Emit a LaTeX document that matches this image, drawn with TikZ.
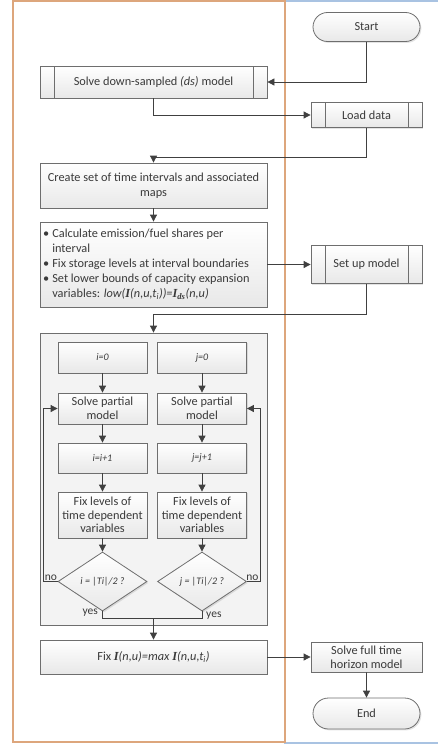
\documentclass[tikz,border=0pt]{standalone}
\usepackage{fontspec}
\setmainfont{Carlito}
\newfontfamily\tnr{Liberation Serif}
\usetikzlibrary{arrows.meta,shapes.geometric,shapes.misc,shadows}

\definecolor{lineclr}{HTML}{404040}
\definecolor{boxedge}{HTML}{6E6E6E}
\definecolor{txtclr}{HTML}{3A3A3A}
\definecolor{lanea}{HTML}{DDA67C}
\definecolor{laneb}{HTML}{A9C3E2}
\definecolor{panel}{HTML}{F3F3F3}

% bold serif italic capital used for the capacity variables
\newcommand{\capI}{{\tnr\bfseries\itshape I}}

\tikzset{
  base/.style={draw=boxedge, line width=0.8pt, text=txtclr, inner sep=2pt,
    top color=white, bottom color=black!9, align=center,
    drop shadow={opacity=0.22, shadow xshift=1.4pt, shadow yshift=-1.4pt}},
  procbox/.style={base, rectangle, minimum height=#1},
  subproc/.style={base, rectangle, minimum width=111pt, minimum height=#1,
    path picture={
      \draw[boxedge, line width=0.7pt]
        ([xshift=14pt]path picture bounding box.north west) --
        ([xshift=14pt]path picture bounding box.south west)
        ([xshift=-14pt]path picture bounding box.north east) --
        ([xshift=-14pt]path picture bounding box.south east);}},
  termbox/.style={base, rounded rectangle, minimum width=111pt, minimum height=29pt},
  decision/.style={base, diamond, minimum width=89pt, minimum height=59pt,
    inner sep=0pt, font=\itshape},
  flow/.style={draw=lineclr, line width=0.8pt,
    -{Triangle[length=7pt,width=7pt]}},
  plain/.style={draw=lineclr, line width=0.8pt},
  lbl/.style={text=txtclr, inner sep=1pt, font=\fontsize{11.5}{13}\selectfont},
}

\begin{document}
\begin{tikzpicture}[x=1pt, y=-1pt, font=\fontsize{12.3}{15}\selectfont]
\useasboundingbox (0,0) rectangle (438,744);

% swim lanes
\draw[laneb, line width=1.6pt] (285,1) rectangle (460,743);
\draw[lanea, line width=1.8pt] (13,1) rectangle (285,742);

% right lane
\node[termbox] (start) at (366.5,27) {Start};
\node[subproc=25pt] (load) at (366.5,115) {Load data};
\node[subproc=38pt] (setup) at (366.5,264.5) {Set up model};
\node[procbox=30pt, minimum width=111pt] (full) at (366.5,657) {Solve full time\\[-1pt]horizon model};
\node[termbox, minimum height=31pt] (end) at (366.5,713.5) {End};

% left lane
\node[subproc=32pt, minimum width=227pt] (ds) at (153.5,82)
  {Solve down-sampled \textit{(ds)} model};
\node[procbox=45pt, minimum width=227pt] (create) at (153.5,185.5)
  {Create set of time intervals and associated\\maps};
\node[procbox=85pt, minimum width=227pt] (bul) at (153.5,264.5) {};
\node[anchor=west, text=txtclr, inner sep=0pt, align=left] (bultxt) at (43,264.5)
  {\begin{tabular}{@{}l@{\hspace{3pt}}l@{}}
   \textbullet & Calculate emission/fuel shares per\\
               & interval\\
   \textbullet & Fix storage levels at interval boundaries\\
   \textbullet & Set lower bounds of capacity expansion\\
               & variables: \textit{low(}\capI\textit{(n,u,t\textsubscript{i}))=}\capI\textsubscript{\tnr\bfseries\itshape ds}\textit{(n,u)}
   \end{tabular}};

% iteration panel
\node[draw=boxedge, line width=0.8pt, fill=panel, minimum width=227pt, minimum height=292pt,
  drop shadow={opacity=0.22, shadow xshift=1.4pt, shadow yshift=-1.4pt}] (panel) at (153.5,479) {};

\node[procbox=31pt, minimum width=89pt, font=\itshape] (i0) at (102.5,357.5) {i=0};
\node[procbox=31pt, minimum width=89pt] (spi) at (102.5,408.5) {Solve partial\\[-1pt]model};
\node[procbox=30pt, minimum width=89pt, font=\itshape] (inci) at (102.5,458) {i=i+1};
\node[procbox=46pt, minimum width=89pt] (fixi) at (102.5,515) {Fix levels of\\[-1.5pt]time dependent\\[-1.5pt]variables};
\node[decision] (deci) at (102.5,581.5) {i = |Ti|/2 ?};

\node[procbox=31pt, minimum width=89pt, font=\itshape] (j0) at (202,357.5) {j=0};
\node[procbox=31pt, minimum width=89pt] (spj) at (202,408.5) {Solve partial\\[-1pt]model};
\node[procbox=30pt, minimum width=89pt, font=\itshape] (incj) at (202,458) {j=j+1};
\node[procbox=46pt, minimum width=89pt] (fixj) at (202,515) {Fix levels of\\[-1.5pt]time dependent\\[-1.5pt]variables};
\node[decision] (decj) at (202,581.5) {j = |Ti|/2 ?};

\node[procbox=34pt, minimum width=227pt] (fixI) at (153.5,657)
  {Fix \capI\textit{(n,u)=max }\capI\textit{(n,u,t\textsubscript{i})}};

% turning points of the connectors
\coordinate (loopi) at (43,581.5);
\coordinate (loopj) at (260,581.5);
\coordinate (yesi) at (102.5,618);
\coordinate (yesj) at (202,618);
\coordinate (join) at (153.5,618);

% connectors
\draw[flow] (start.south) |- (ds.east);
\draw[flow] (ds.south) |- (load.west);
\draw[flow] (load.south) -- ++(0,29) -| (create.north);
\draw[flow] (create) -- (bul);
\draw[flow] (bul.east) -- (setup.west);
\draw[flow] (setup.south) -- ++(0,30.5) -| (panel.north);

\draw[flow] (i0) -- (spi);
\draw[flow] (spi) -- (inci);
\draw[flow] (inci) -- (fixi);
\draw[flow] (fixi) -- (deci);
\draw[flow] (j0) -- (spj);
\draw[flow] (spj) -- (incj);
\draw[flow] (incj) -- (fixj);
\draw[flow] (fixj) -- (decj);

\draw[flow] (deci.west) -- (loopi) |- (spi.west);
\draw[flow] (decj.east) -- (loopj) |- (spj.east);
\node[lbl, anchor=south] (noi) at (51,581.5) {no};
\node[lbl, anchor=south] (noj) at (252.5,581.5) {no};

\draw[plain] (deci.south) -- (yesi) -- (yesj) -- (decj.south);
\node[lbl, anchor=east] (yesil) at (99,613) {yes};
\node[lbl, anchor=west] (yesjl) at (205,615.5) {yes};
\draw[flow] (join) -- (fixI.north);

\draw[flow] (fixI.east) -- (full.west);
\draw[flow] (full) -- (end);
\end{tikzpicture}
\end{document}
